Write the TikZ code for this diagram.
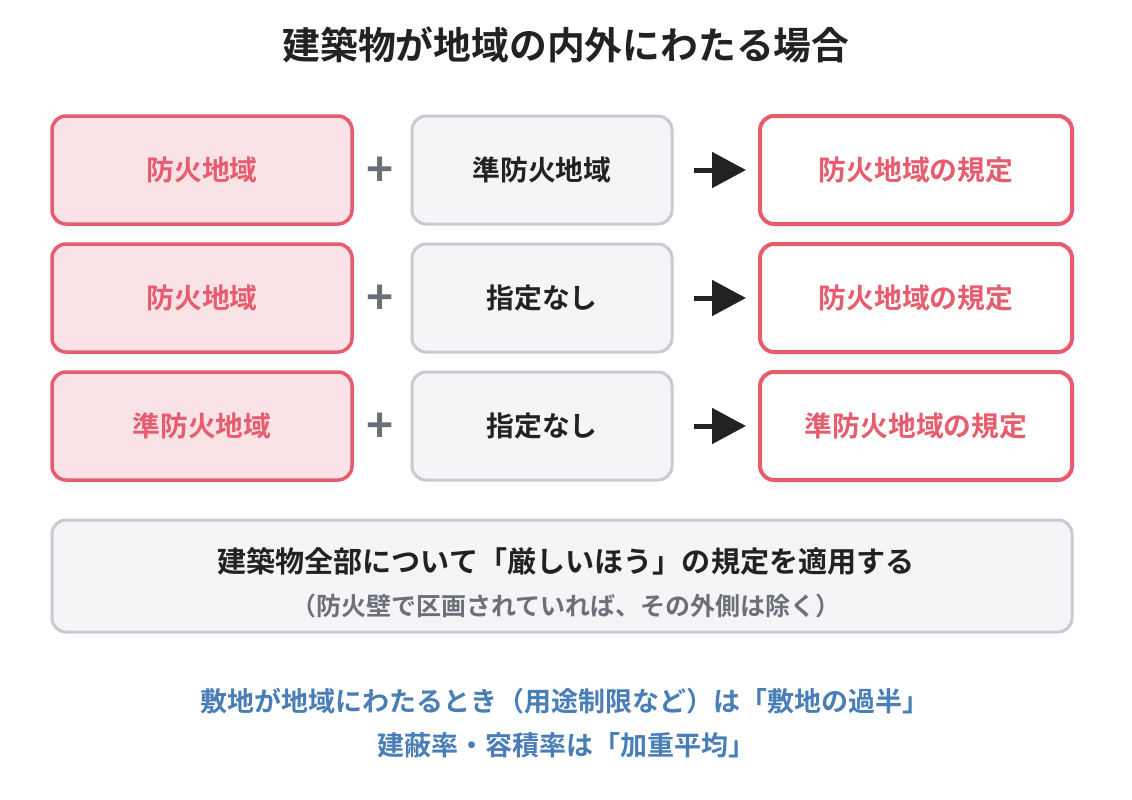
\documentclass[tikz,border=0pt]{standalone}
\usepackage{fontspec}
\setmainfont{Noto Sans CJK JP}[BoldFont={Noto Sans CJK JP Bold}]
\usetikzlibrary{arrows.meta}
\definecolor{redc}{HTML}{E85D6E}
\definecolor{pinkfill}{HTML}{FAE3E7}
\definecolor{grayline}{HTML}{C9CAD3}
\definecolor{grayfill}{HTML}{F5F5F8}
\definecolor{plusc}{HTML}{6B6E78}
\definecolor{darkc}{HTML}{222222}
\definecolor{bluec}{HTML}{4A7EB6}
\definecolor{subc}{HTML}{6E7079}
\tikzset{
  x=1pt, y=-1pt,
  boxbase/.style={rounded corners=14pt, inner sep=0pt, font=\fontsize{27.8}{32}\selectfont\bfseries},
  zonebox/.style={boxbase, draw=redc, fill=pinkfill, line width=3.5pt, text=redc, minimum width=300pt, minimum height=108pt},
  otherbox/.style={boxbase, draw=grayline, fill=grayfill, line width=3pt, text=darkc, minimum width=260pt, minimum height=108pt},
  resultbox/.style={boxbase, draw=redc, fill=white, line width=4pt, text=redc, minimum width=312pt, minimum height=108pt},
  plussign/.style={text=plusc, font=\fontsize{46}{46}\selectfont\bfseries, inner sep=0pt},
  resarrow/.style={-{Triangle[length=34pt,width=35pt]}, line width=5pt, draw=darkc, shorten <=20pt, shorten >=12pt},
  notebox/.style={rounded corners=14pt, draw=grayline, fill=grayfill, line width=3pt, minimum width=1020pt, minimum height=112pt, inner sep=0pt},
  bluetext/.style={text=bluec, font=\fontsize{27}{30}\selectfont\bfseries, inner sep=0pt}
}
\begin{document}
\begin{tikzpicture}
\useasboundingbox (0,0) rectangle (1132,800);
\node[font=\fontsize{37.8}{44}\selectfont\bfseries, text=darkc, inner sep=0pt] (title) at (566,45) {建築物が地域の内外にわたる場合};

\node[zonebox] (a1) at (202,170) {防火地域};
\node[plussign] (p1) at (380,172) {+};
\node[otherbox] (b1) at (542,170) {準防火地域};
\node[resultbox] (c1) at (916,170) {防火地域の規定};
\draw[resarrow] (b1.east) -- (c1.west);

\node[zonebox] (a2) at (202,298) {防火地域};
\node[plussign] (p2) at (380,300) {+};
\node[otherbox] (b2) at (542,298) {指定なし};
\node[resultbox] (c2) at (916,298) {防火地域の規定};
\draw[resarrow] (b2.east) -- (c2.west);

\node[zonebox] (a3) at (202,426) {準防火地域};
\node[plussign] (p3) at (380,428) {+};
\node[otherbox] (b3) at (542,426) {指定なし};
\node[resultbox] (c3) at (916,426) {準防火地域の規定};
\draw[resarrow] (b3.east) -- (c3.west);

\node[notebox] (note) at (562,576) {};
\node[text=darkc, font=\fontsize{29.1}{34}\selectfont\bfseries, inner sep=0pt] (notemain) at (566,561) {建築物全部について「厳しいほう」の規定を適用する};
\node[text=subc, font=\fontsize{25}{30}\selectfont\bfseries, inner sep=0pt] (notesub) at (566,606) {（防火壁で区画されていれば、その外側は除く）};

\node[bluetext] (blue1) at (565,701) {敷地が地域にわたるとき（用途制限など）は「敷地の過半」};
\node[bluetext] (blue2) at (566,745) {建蔽率・容積率は「加重平均」};
\end{tikzpicture}
\end{document}
